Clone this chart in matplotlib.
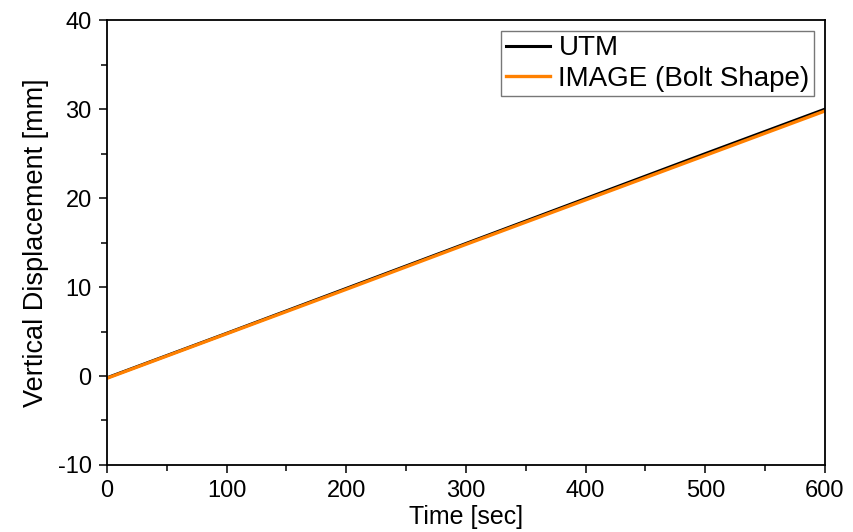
import matplotlib.pyplot as plt
from matplotlib.ticker import MultipleLocator

plt.rcParams['font.family'] = ['Liberation Sans', 'DejaVu Sans']
plt.rcParams['axes.unicode_minus'] = False

# data
tempo = [0, 100, 200, 300, 400, 500, 600]
utm = [-0.2, 4.8, 9.85, 14.9, 19.95, 25.0, 30.0]
immagine = [-0.25, 4.75, 9.75, 14.8, 19.8, 24.8, 29.8]

fig = plt.figure(figsize=(8.54, 5.32), dpi=100)
ax = fig.add_axes([0.1253, 0.126, 0.8407, 0.836])

ax.plot(tempo, utm, '-', color='black', lw=2.2, label='UTM')
ax.plot(tempo, immagine, '-', color='#FF8000', lw=2.4, label='IMAGE (Bolt Shape)')

ax.set_xlim(0, 600)
ax.set_ylim(-10, 40)
ax.xaxis.set_major_locator(MultipleLocator(100))
ax.xaxis.set_minor_locator(MultipleLocator(50))
ax.yaxis.set_major_locator(MultipleLocator(10))
ax.yaxis.set_minor_locator(MultipleLocator(5))
ax.tick_params(which='major', direction='out', length=6, width=1.1, labelsize=17, pad=5)
ax.tick_params(which='minor', direction='out', length=4, width=1.1)
for s in ax.spines.values():
    s.set_linewidth(1.3)

ax.set_xlabel('Time [sec]', fontsize=18, labelpad=2)
ax.set_ylabel('Vertical Displacement [mm]', fontsize=19.5, labelpad=6)

leg = ax.legend(loc='upper right', fontsize=20, frameon=True, fancybox=False,
                handlelength=1.6, handletextpad=0.3, borderpad=0.15,
                labelspacing=0.15, borderaxespad=0.4, edgecolor='#555555')
leg.get_frame().set_linewidth(1.0)

fig.savefig('out.png', dpi=100)
